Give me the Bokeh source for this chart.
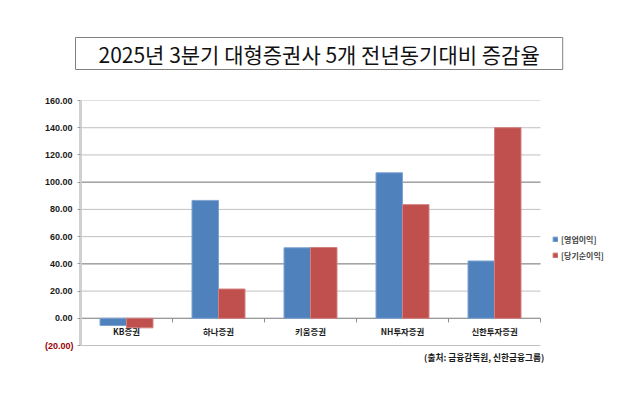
from bokeh.plotting import figure
from bokeh.models import (FixedTicker, NumeralTickFormatter, Legend, Range1d,
                          LegendItem, ColumnDataSource, Title, LinearAxis)
from bokeh.transform import dodge
from bokeh.core.properties import value
from bokeh.embed import file_html
from bokeh.resources import INLINE

# ---- data ----
title = "2025년 3분기 대형증권사 5개 전년동기대비 증감율"
categories = ["KB증권", "하나증권", "키움증권", "NH투자증권", "신한투자증권"]
operating_profit = [-5.3, 86.6, 51.8, 106.9, 42.1]   # [영업이익]
net_income = [-7.0, 21.5, 52.0, 83.5, 140.0]         # [당기순이익]
series_names = ["[영업이익]", "[당기순이익]"]
y_ticks = [-20, 0, 20, 40, 60, 80, 100, 120, 140, 160]
negative_ticks = [-20]
source_note = "(출처: 금융감독원, 신한금융그룹)"

KFONT = "Noto Sans CJK KR"
BLUE = "#4F81BD"
RED = "#C0504D"

n = len(categories)
pos = [i + 0.5 for i in range(n)]           # category slot centres
bounds_x = list(range(n + 1))                # category slot boundaries

src = ColumnDataSource(dict(x=pos, cat=categories, op=operating_profit, ni=net_income,
                            zero=[0] * n))
grid_src = ColumnDataSource(dict(y=y_ticks, x0=[0] * len(y_ticks), x1=[n] * len(y_ticks)))
dark = [t for t in y_ticks if t in (0, 40, 100)]
dark_src = ColumnDataSource(dict(y=dark, x0=[0] * len(dark), x1=[n] * len(dark)))
bnd_src = ColumnDataSource(dict(x=bounds_x, y0=[0] * (n + 1)))

p = figure(frame_width=552, frame_height=289,
           x_range=Range1d(0, n + 1), y_range=Range1d(-52.3, 160),
           output_backend="svg", toolbar_location=None, x_axis_location=None,
           min_border_left=80, min_border_right=0, min_border_top=100, min_border_bottom=0)
p.outline_line_color = None
p.background_fill_color = "white"
p.xgrid.visible = False
p.ygrid.visible = False

# gridlines limited to the category area
p.segment(x0="x0", x1="x1", y0="y", y1="y", source=grid_src, line_color="#C0C0C0", line_width=1)
p.segment(x0="x0", x1="x1", y0="y", y1="y", source=dark_src, line_color="#8C8C8C", line_width=1)

bw = 0.288
r1 = p.vbar(x=dodge("x", -bw / 2), top="op", width=bw, source=src,
            fill_color=BLUE, line_color="#7FA3D0", line_width=1)
r2 = p.vbar(x=dodge("x", bw / 2), top="ni", width=bw, source=src,
            fill_color=RED, line_color="#D27F7D", line_width=1)

# y axis
p.yaxis.ticker = FixedTicker(ticks=y_ticks)
p.yaxis.bounds = (y_ticks[0], y_ticks[-1])
p.yaxis.formatter = NumeralTickFormatter(format="(0.00)")
p.yaxis.major_label_overrides = {-20: ""}
p.yaxis.major_label_text_font = "Liberation Sans"
p.yaxis.major_label_text_font_style = "bold"
p.yaxis.major_label_text_font_size = "9px"
p.yaxis.major_label_text_color = "#1a1a1a"
p.yaxis.major_label_standoff = 5
p.yaxis.major_tick_in = 0
p.yaxis.major_tick_out = 3
p.yaxis.major_tick_line_color = "#9a9a9a"
p.yaxis.minor_tick_line_color = None
p.yaxis.axis_line_color = "#D0D0D0"
p.yaxis.axis_line_width = 3

# second (outer) axis carrying only the red negative label, pulled inward
neg_axis = LinearAxis(ticker=FixedTicker(ticks=negative_ticks),
                      formatter=NumeralTickFormatter(format="(0.00)"),
                      axis_line_color=None, major_tick_line_color=None,
                      minor_tick_line_color=None, major_tick_out=0, major_tick_in=0,
                      major_label_standoff=-32,
                      major_label_text_font="Liberation Sans",
                      major_label_text_font_style="bold",
                      major_label_text_font_size="9px",
                      major_label_text_color="#9C0006")
p.add_layout(neg_axis, "left")

# category tick marks on the zero line
p.segment(x0="x", x1="x", y0="y0", y1=-3, source=bnd_src, line_color="#8A8A8A", line_width=1)

# category labels
p.text(x="x", y="zero", text="cat", source=src, y_offset=13, text_align="center",
       text_baseline="middle", text_font=value(KFONT), text_font_size="8.4px",
       text_font_style="bold", text_color="#1a1a1a")

# source note (below the chart area, right-aligned to its edge)
p.text(x=[n + 0.04], y=[y_ticks[0]], text=[source_note], y_offset=12, text_align="right",
       text_baseline="middle", text_font=value(KFONT), text_font_size="8.7px",
       text_font_style="bold", text_color="#1a1a1a")

# title box
p.title = Title(text=title, align="left", offset=-5, text_font=KFONT, text_font_size="21px",
                text_font_style="normal", text_color="#111111",
                border_line_color="#808080", border_line_width=1,
                padding=(23, 1), standoff=62)

legend = Legend(items=[LegendItem(label=series_names[0], renderers=[r1]),
                       LegendItem(label=series_names[1], renderers=[r2])],
                location=(472, 128), orientation="vertical")
legend.label_text_font = KFONT
legend.label_text_font_size = "8px"
legend.label_text_font_style = "bold"
legend.glyph_width = 6
legend.glyph_height = 6
legend.label_height = 12
legend.label_standoff = 3
legend.spacing = 4
legend.padding = 0
legend.margin = 0
legend.border_line_color = None
legend.background_fill_alpha = 0
p.add_layout(legend, "center")

open("out.html", "w").write(file_html(p, INLINE))
